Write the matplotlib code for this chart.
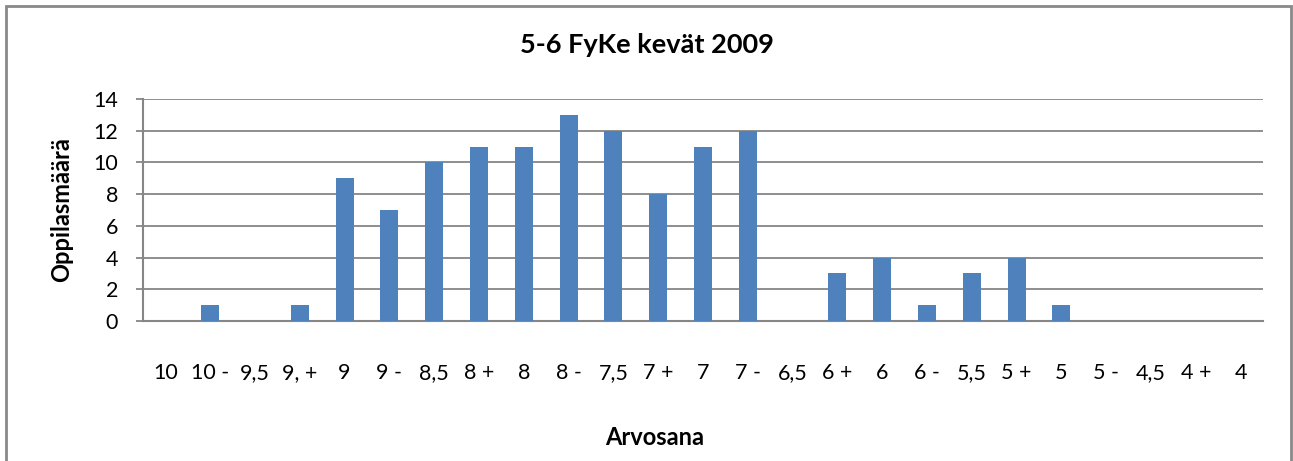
import matplotlib.pyplot as plt
from matplotlib.patches import Rectangle

plt.rcParams['font.family'] = ['Lato', 'DejaVu Sans']

grades = ["10", "10 -", "9,5", "9, +", "9", "9 -", "8,5", "8 +", "8", "8 -",
          "7,5", "7 +", "7", "7 -", "6,5", "6 +", "6", "6 -", "5,5", "5 +",
          "5", "5 -", "4,5", "4 +", "4"]
counts = [0, 1, 0, 1, 9, 7, 10, 11, 11, 13,
          12, 8, 11, 12, 0, 3, 4, 1, 3, 4,
          1, 0, 0, 0, 0]

fig = plt.figure(figsize=(12.93, 4.61), dpi=100)
ax = fig.add_axes([143 / 1293, 1 - 321 / 461, (1263 - 143) / 1293, (321 - 99) / 461])

grid_col = "#868686"
x = list(range(len(grades)))
ax.bar(x, counts, width=0.4, color="#4F81BD", zorder=3)

ax.set_xlim(-0.5, len(grades) - 0.5)
ax.set_ylim(0, 14)
ax.set_yticks(range(0, 15, 2))
ax.yaxis.grid(True, color=grid_col, linewidth=1.3, zorder=0)

ax.set_xticks(x)
ax.set_xticklabels(grades)
ax.tick_params(axis="x", length=0, pad=30, labelsize=15.5)
ax.tick_params(axis="y", length=5, width=1.3, color=grid_col, pad=13, labelsize=15.5)

for side in ["top", "right"]:
    ax.spines[side].set_visible(False)
for side in ["left", "bottom"]:
    ax.spines[side].set_color(grid_col)
    ax.spines[side].set_linewidth(1.5)

fig.text((517 + 776) / 2 / 1293, 1 - 45 / 461, "5-6 FyKe kevät 2009",
         ha="center", va="center", fontsize=19.5, fontweight="bold")
fig.text(655 / 1293, 1 - 437 / 461, "Arvosana",
         ha="center", va="center", fontsize=17, fontweight="bold")
fig.text(62 / 1293, 1 - 210 / 461, "Oppilasmäärä", rotation=90,
         ha="center", va="center", fontsize=17, fontweight="bold")

fig.patches.append(Rectangle((6 / 1293, -0.05), (1291 - 6) / 1293, 1.05 - 6 / 461,
                             transform=fig.transFigure, fill=False,
                             edgecolor="#898989", linewidth=2))

fig.savefig("out.png", dpi=100)
